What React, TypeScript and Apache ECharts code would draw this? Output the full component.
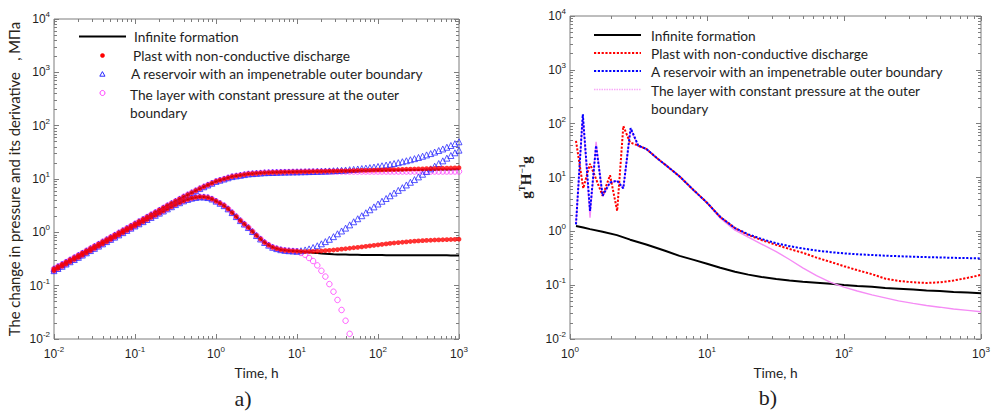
import React, { useEffect, useRef } from 'react';
import * as echarts from 'echarts';

// ---------- Panel a): pressure and derivative vs time ----------
const timeA = [0.01, 0.0112, 0.0126, 0.0141, 0.0158, 0.0178, 0.02, 0.0224, 0.0251, 0.0282, 0.0316, 0.0355, 0.0398, 0.0447, 0.0501, 0.0562, 0.0631, 0.0708, 0.0794, 0.0891,
  0.1, 0.112, 0.126, 0.141, 0.158, 0.178, 0.2, 0.224, 0.251, 0.282, 0.316, 0.355, 0.398, 0.447, 0.501, 0.562, 0.631, 0.708, 0.794, 0.891,
  1, 1.12, 1.26, 1.41, 1.58, 1.78, 2, 2.24, 2.51, 2.82, 3.16, 3.55, 3.98, 4.47, 5.01, 5.62, 6.31, 7.08, 7.94, 8.91,
  10, 11.2, 12.6, 14.1, 15.8, 17.8, 20, 22.4, 25.1, 28.2, 31.6, 35.5, 39.8, 44.7, 50.1, 56.2, 63.1, 70.8, 79.4, 89.1,
  100, 112, 126, 141, 158, 178, 200, 224, 251, 282, 316, 355, 398, 447, 501, 562, 631, 708, 794, 891, 1000];

// shared by all models up to t = 10 h
const pressureEarly = [0.207, 0.228, 0.251, 0.277, 0.305, 0.336, 0.371, 0.408, 0.450, 0.496, 0.546, 0.602, 0.664, 0.731, 0.805, 0.889, 0.979, 1.079, 1.189, 1.312,
  1.445, 1.594, 1.758, 1.939, 2.138, 2.358, 2.600, 2.868, 3.162, 3.475, 3.824, 4.207, 4.624, 5.058, 5.527, 6.039, 6.607, 7.145, 7.718, 8.337,
  9.016, 9.495, 10.0, 10.53, 11.09, 11.42, 11.75, 12.09, 12.45, 12.61, 12.78, 12.95, 13.12, 13.20, 13.27, 13.35, 13.43, 13.48, 13.52, 13.57, 13.61];
const derivativeEarly = [0.191, 0.210, 0.231, 0.255, 0.281, 0.309, 0.340, 0.375, 0.413, 0.455, 0.501, 0.552, 0.608, 0.670, 0.738, 0.813, 0.895, 0.986, 1.086, 1.197,
  1.318, 1.445, 1.585, 1.738, 1.905, 2.089, 2.291, 2.512, 2.754, 3.020, 3.311, 3.589, 3.890, 4.140, 4.365, 4.519, 4.624, 4.603, 4.487, 4.217,
  3.846, 3.508, 3.162, 2.754, 2.344, 1.972, 1.660, 1.429, 1.230, 1.035, 0.871, 0.750, 0.646, 0.575, 0.525, 0.495, 0.473, 0.460, 0.452, 0.447, 0.442];

// after t = 10 h (t = 11.2 ... 1000)
const infinitePressureLate = [13.65, 13.69, 13.73, 13.77, 13.81, 13.85, 13.89, 13.93, 13.97, 14.01, 14.05, 14.09, 14.13, 14.17, 14.21, 14.25, 14.29, 14.33, 14.37, 14.41,
  14.45, 14.49, 14.53, 14.57, 14.61, 14.65, 14.69, 14.73, 14.77, 14.81, 14.85, 14.89, 14.93, 14.97, 15.01, 15.05, 15.09, 15.13, 15.17, 15.21];
const infiniteDerivativeLate = [0.435, 0.428, 0.421, 0.414, 0.408, 0.402, 0.397, 0.393, 0.389, 0.386, 0.384, 0.382, 0.38, 0.379, 0.378, 0.377, 0.376, 0.375, 0.375, 0.374,
  0.374, 0.373, 0.373, 0.373, 0.372, 0.372, 0.372, 0.371, 0.371, 0.371, 0.371, 0.37, 0.37, 0.37, 0.37, 0.37, 0.37, 0.369, 0.369, 0.369];
const faultPressureLate = [13.66, 13.71, 13.76, 13.81, 13.86, 13.91, 13.96, 14.01, 14.06, 14.11, 14.17, 14.23, 14.29, 14.35, 14.41, 14.47, 14.54, 14.61, 14.68, 14.75,
  14.81, 14.88, 14.95, 15.02, 15.09, 15.16, 15.23, 15.3, 15.37, 15.44, 15.52, 15.6, 15.68, 15.76, 15.84, 15.92, 16.0, 16.08, 16.16, 16.25];
const faultDerivativeLate = [0.437, 0.436, 0.437, 0.439, 0.442, 0.447, 0.453, 0.46, 0.467, 0.475, 0.484, 0.493, 0.503, 0.513, 0.524, 0.535, 0.547, 0.559, 0.571, 0.583,
  0.595, 0.607, 0.619, 0.631, 0.642, 0.653, 0.663, 0.673, 0.682, 0.69, 0.698, 0.705, 0.711, 0.717, 0.722, 0.727, 0.731, 0.735, 0.738, 0.741];
const closedPressureLate = [13.65, 13.7, 13.76, 13.82, 13.9, 13.98, 14.07, 14.18, 14.3, 14.43, 14.58, 14.75, 14.95, 15.17, 15.42, 15.7, 16.0, 16.35, 16.75, 17.2,
  17.7, 18.25, 18.85, 19.5, 20.25, 21.1, 22.0, 23.0, 24.1, 25.35, 26.75, 28.3, 30.0, 32.0, 34.2, 36.6, 39.4, 42.5, 46.0, 49.9];
const closedDerivativeLate = [0.452, 0.468, 0.49, 0.52, 0.56, 0.61, 0.67, 0.74, 0.83, 0.94, 1.06, 1.2, 1.38, 1.58, 1.8, 2.05, 2.33, 2.65, 3.0, 3.4,
  3.83, 4.31, 4.85, 5.45, 6.12, 6.88, 7.73, 8.68, 9.75, 10.95, 12.3, 13.8, 15.5, 17.4, 19.5, 21.9, 24.6, 27.6, 31.0, 34.8];
const constantPressureLate = [13.65, 13.69, 13.72, 13.75, 13.77, 13.79, 13.8, 13.81, 13.82, 13.82,
  13.83, 13.83, 13.83, 13.83, 13.83, 13.83, 13.83, 13.83, 13.83, 13.83, 13.83, 13.83, 13.83, 13.83, 13.83, 13.83, 13.83, 13.83, 13.83, 13.83,
  13.83, 13.83, 13.83, 13.83, 13.83, 13.83, 13.83, 13.83, 13.83, 13.83];
const constantDerivativeLate = [0.41, 0.38, 0.33, 0.29, 0.24, 0.19, 0.148, 0.107, 0.077, 0.054, 0.035, 0.022, 0.0125];

// ---------- Panel b): g^T H^-1 g vs time ----------
const timeBLate = [3.6, 4.3, 5, 6.3, 8, 10, 12.5, 16, 20, 25, 32, 40, 50, 63, 80, 100, 125, 160, 200, 250, 320, 400, 500, 630, 800, 1000];
const infiniteTimeB = [1.106, 1.25, 1.4, 1.73, 2.2, 2.75];
const infiniteGainEarly = [1.26, 1.18, 1.1, 0.98, 0.85, 0.7];
const infiniteGainLate = [0.57, 0.49, 0.43, 0.35, 0.295, 0.25, 0.21, 0.178, 0.157, 0.142, 0.13, 0.122, 0.116, 0.111, 0.106, 0.101, 0.097, 0.093, 0.089, 0.086, 0.083, 0.08, 0.078, 0.075, 0.073, 0.071];
const faultTimeB = [1.106, 1.25, 1.4, 1.73, 1.96, 2.21, 2.45, 2.74, 3.24];
const faultGainEarly = [48, 6.3, 18, 4.6, 11, 2.4, 90, 45, 38];
const faultGainLate = [34, 23, 17, 10.5, 5.8, 3.4, 1.85, 1.15, 0.86, 0.69, 0.56, 0.47, 0.4, 0.325, 0.27, 0.225, 0.19, 0.16, 0.132, 0.12, 0.113, 0.11, 0.113, 0.122, 0.137, 0.155];
const closedTimeB = [1.106, 1.24, 1.4, 1.55, 1.73, 1.96, 2.21, 2.45, 2.77, 3.15];
const closedGainEarly = [1.35, 150, 2.4, 39, 4.6, 8.1, 8.7, 6.3, 83, 39];
const closedGainLate = [34, 23, 17, 10.5, 5.8, 3.4, 1.85, 1.15, 0.88, 0.72, 0.6, 0.53, 0.48, 0.44, 0.41, 0.39, 0.375, 0.363, 0.353, 0.345, 0.338, 0.332, 0.327, 0.322, 0.318, 0.314];
const constantTimeB = [1.106, 1.24, 1.4, 1.55, 1.73, 1.96, 2.21, 2.45, 2.77, 3.15];
const constantGainEarly = [1.35, 140, 1.8, 46, 4.4, 8.0, 8.6, 6.2, 80, 38];
const constantGainLate = [34, 23, 17, 10.5, 5.8, 3.4, 1.75, 1.05, 0.78, 0.58, 0.42, 0.3, 0.21, 0.15, 0.113, 0.092, 0.078, 0.066, 0.058, 0.051, 0.046, 0.042, 0.039, 0.036, 0.034, 0.032];

// ---------- axes ----------
const decadesAX = [0.01, 0.1, 1, 10, 100, 1000];
const decadesBX = [1, 10, 100, 1000];
const decadesY = [0.01, 0.1, 1, 10, 100, 1000, 10000];
const minorSteps = [2, 3, 4, 5, 6, 7, 8, 9];

const names = {
  infinite: 'Infinite formation',
  fault: 'Plast with non-conductive discharge',
  closed: 'A reservoir with an impenetrable outer boundary',
  constant: 'The layer with constant pressure at the outer\nboundary',
};

const GRAY = '#7d7d7d';
const TXT = '#1e1e1e';
const LEG_FONT = 'Lato';
const LEG_SIZE = 13.7;

const minorsOf = (decades: number[]) => decades.slice(0, -1).flatMap((d) => minorSteps.map((m) => +(m * d).toPrecision(3)));
const pairs = (t: number[], v: number[]) => v.map((y, i) => [t[i], y]);

const powLabel = (v: number) => `{b|10}{e|${Math.round(Math.log10(v))}}`;
const labelRich = {
  b: { fontSize: 12, fontFamily: 'Liberation Sans', color: TXT },
  e: { fontSize: 8, fontFamily: 'Liberation Sans', color: TXT, padding: [0, 0, 9, 0] },
};

function axesFor(dim: 'x' | 'y', grid: number, decades: number[], extra: any) {
  const min = decades[0];
  const max = decades[decades.length - 1];
  const minors = minorsOf(decades);
  const sides = dim === 'x' ? ['bottom', 'top'] : ['left', 'right'];
  const base = { type: 'log', logBase: 10, gridIndex: grid, min, max, splitLine: { show: false }, axisLine: { show: false } };
  const out: any[] = [];
  sides.forEach((pos, si) => {
    out.push({
      ...base,
      position: pos,
      axisTick: { show: true, inside: true, length: 5, customValues: decades, lineStyle: { color: GRAY } },
      axisLabel: si === 0
        ? { show: true, customValues: decades, formatter: powLabel, rich: labelRich, margin: dim === 'x' ? 6 : 4 }
        : { show: false },
      ...(si === 0 ? extra : {}),
    });
    out.push({
      ...base,
      position: pos,
      axisTick: { show: true, inside: true, length: 3, customValues: minors, lineStyle: { color: GRAY } },
      axisLabel: { show: false },
    });
  });
  return out;
}

const nameStyle = { fontFamily: LEG_FONT, fontSize: LEG_SIZE, color: TXT };

const xAxes = [
  ...axesFor('x', 0, decadesAX, { name: 'Time, h', nameLocation: 'middle', nameGap: 26, nameTextStyle: nameStyle }),
  ...axesFor('x', 1, decadesBX, { name: 'Time, h', nameLocation: 'middle', nameGap: 26, nameTextStyle: nameStyle }),
];
const yAxes = [
  ...axesFor('y', 0, decadesY, {
    name: 'The change in pressure and its derivative   , МПа', nameLocation: 'middle', nameGap: 33,
    nameTextStyle: { ...nameStyle, fontSize: 14.8, color: '#2a2418' },
  }),
  ...axesFor('y', 1, decadesY, {
    name: '{n|g}{s|T}{n|H}{s|−1}{n|g}', nameLocation: 'middle', nameGap: 35,
    nameTextStyle: {
      rich: {
        n: { fontFamily: 'Liberation Serif', fontWeight: 'bold', fontSize: 15, color: TXT },
        s: { fontFamily: 'Liberation Serif', fontWeight: 'bold', fontSize: 9, color: TXT, padding: [0, 0, 9, 0] },
      },
    },
  }),
];

const scatterA = (name: string, data: any[], kind: string, z: number) => {
  const styles: Record<string, any> = {
    fault: { symbol: 'circle', symbolSize: 4.8, itemStyle: { color: '#ff0000' } },
    closed: { symbol: 'triangle', symbolSize: 6, itemStyle: { color: 'rgba(0,0,0,0)', borderColor: '#2a2aff', borderWidth: 1 } },
    constant: { symbol: 'circle', symbolSize: 5.5, itemStyle: { color: 'rgba(0,0,0,0)', borderColor: '#ff3cff', borderWidth: 1 } },
  };
  return { type: 'scatter', name, xAxisIndex: 0, yAxisIndex: 0, data, z, silent: true, ...styles[kind] };
};

const lineB = (name: string, data: any[], color: string, width: number, type: any, z: number) => ({
  type: 'line', name, xAxisIndex: 4, yAxisIndex: 4, data, z, symbol: 'none', silent: true,
  lineStyle: { color, width, type, cap: 'butt' },
});

const series: any[] = [
  // panel a
  { type: 'line', name: names.infinite, xAxisIndex: 0, yAxisIndex: 0, symbol: 'none', z: 1, silent: true,
    data: pairs(timeA, [...pressureEarly, ...infinitePressureLate]), lineStyle: { color: '#000', width: 2 } },
  { type: 'line', name: names.infinite, xAxisIndex: 0, yAxisIndex: 0, symbol: 'none', z: 1, silent: true,
    data: pairs(timeA, [...derivativeEarly, ...infiniteDerivativeLate]), lineStyle: { color: '#000', width: 2 } },
  scatterA(names.constant, pairs(timeA, [...pressureEarly, ...constantPressureLate]), 'constant', 2),
  scatterA(names.constant, pairs(timeA, [...derivativeEarly, ...constantDerivativeLate]), 'constant', 2),
  scatterA(names.closed, pairs(timeA, [...pressureEarly, ...closedPressureLate]), 'closed', 3),
  scatterA(names.closed, pairs(timeA, [...derivativeEarly, ...closedDerivativeLate]), 'closed', 3),
  scatterA(names.fault, pairs(timeA, [...pressureEarly, ...faultPressureLate]), 'fault', 4),
  scatterA(names.fault, pairs(timeA, [...derivativeEarly, ...faultDerivativeLate]), 'fault', 4),
  // panel b
  lineB(names.infinite, [...pairs(infiniteTimeB, infiniteGainEarly), ...pairs(timeBLate, infiniteGainLate)], '#000', 2, 'solid', 1),
  lineB(names.constant, [...pairs(constantTimeB, constantGainEarly), ...pairs(timeBLate, constantGainLate)], '#f58cf5', 1.4, 'solid', 2),
  lineB(names.fault, [...pairs(faultTimeB, faultGainEarly), ...pairs(timeBLate, faultGainLate)], '#ff0000', 2, [2.2, 1.6], 3),
  lineB(names.closed, [...pairs(closedTimeB, closedGainEarly), ...pairs(timeBLate, closedGainLate)], '#0000ff', 2, [2.2, 1.6], 4),
];

const legText = (x: number, y: number, text: string) => ({
  type: 'text', x, y, silent: true,
  style: { text, fontFamily: LEG_FONT, fontSize: LEG_SIZE, fill: TXT, align: 'left', verticalAlign: 'middle', lineHeight: 18 },
});

const graphics: any[] = [
  // legend a)
  { type: 'line', silent: true, shape: { x1: 79, y1: 36.5, x2: 126, y2: 36.5 }, style: { stroke: '#000', lineWidth: 2 } },
  legText(134, 36, names.infinite),
  { type: 'circle', silent: true, shape: { cx: 102.5, cy: 55.5, r: 2.3 }, style: { fill: '#ff0000' } },
  legText(133, 55, names.fault),
  { type: 'polygon', silent: true, shape: { points: [[99.8, 76.2], [105, 76.2], [102.4, 71.6]] }, style: { fill: 'none', stroke: '#2a2aff', lineWidth: 1 } },
  legText(131, 73, names.closed),
  { type: 'circle', silent: true, shape: { cx: 102.5, cy: 93, r: 2.5 }, style: { fill: 'none', stroke: '#ff3cff', lineWidth: 1 } },
  legText(130, 103, names.constant),
  // legend b)
  { type: 'line', silent: true, shape: { x1: 594, y1: 35, x2: 641, y2: 35 }, style: { stroke: '#000', lineWidth: 2 } },
  legText(651, 35, names.infinite),
  { type: 'line', silent: true, shape: { x1: 594, y1: 53, x2: 641, y2: 53 }, style: { stroke: '#ff0000', lineWidth: 2, lineDash: [2.2, 1.6] } },
  legText(651, 53, names.fault),
  { type: 'line', silent: true, shape: { x1: 594, y1: 71, x2: 641, y2: 71 }, style: { stroke: '#0000ff', lineWidth: 2, lineDash: [2.2, 1.6] } },
  legText(651, 71, names.closed),
  { type: 'line', silent: true, shape: { x1: 594, y1: 89.5, x2: 641, y2: 89.5 }, style: { stroke: '#f8a8f8', lineWidth: 1.5, lineDash: [1.5, 1] } },
  legText(651, 99, names.constant),
  // captions
  { type: 'text', x: 243, y: 398, silent: true, style: { text: 'a)', fontFamily: 'Liberation Serif', fontSize: 22, fill: TXT, align: 'center', verticalAlign: 'middle' } },
  { type: 'text', x: 768, y: 397, silent: true, style: { text: 'b)', fontFamily: 'Liberation Serif', fontSize: 22, fill: TXT, align: 'center', verticalAlign: 'middle' } },
];

const option: any = {
  animation: false,
  backgroundColor: '#ffffff',
  textStyle: { fontFamily: LEG_FONT },
  grid: [
    { left: 54, top: 19, width: 405, height: 320, show: true, borderColor: GRAY, borderWidth: 1, backgroundColor: 'transparent' },
    { left: 570, top: 16, width: 411, height: 323, show: true, borderColor: GRAY, borderWidth: 1, backgroundColor: 'transparent' },
  ],
  xAxis: xAxes,
  yAxis: yAxes,
  series,
  graphic: graphics,
};

export default function App() {
  const ref = useRef<HTMLDivElement>(null);
  useEffect(() => {
    if (!ref.current) return;
    const chart = echarts.init(ref.current, null, { renderer: 'svg' });
    chart.setOption(option);
    return () => chart.dispose();
  }, []);
  return <div ref={ref} style={{ position: 'absolute', left: 0, top: 0, width: 997, height: 411, background: '#fff' }} />;
}
